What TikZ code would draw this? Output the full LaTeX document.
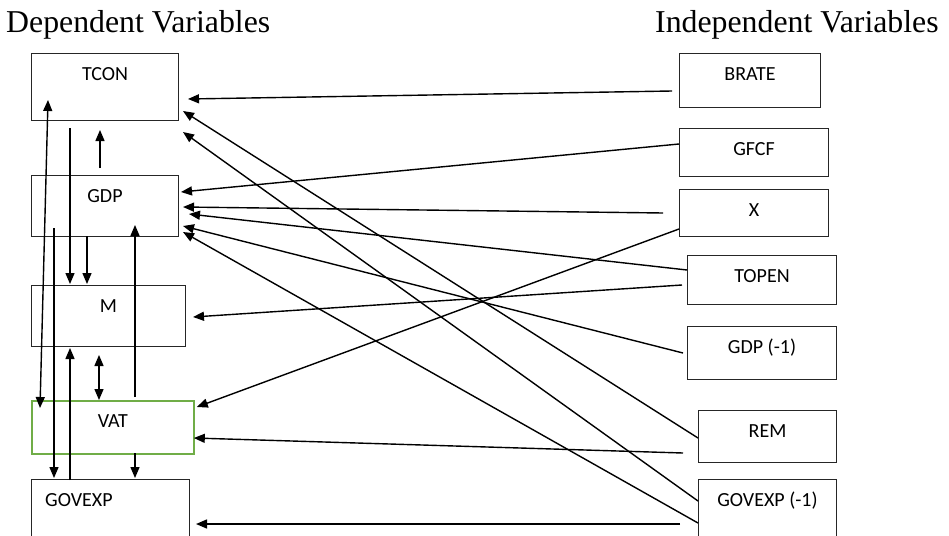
\documentclass[tikz,border=0pt]{standalone}
\usepackage{fontspec}
\setmainfont{Liberation Serif}
\setsansfont{Carlito}
\usetikzlibrary{arrows.meta}

\definecolor{vatgreen}{RGB}{112,173,71}

\tikzset{
	varbox/.style={draw=black!85, line width=1pt, anchor=north west, inner sep=0pt,
		minimum width=#1},
	boxtext/.style={anchor=base, inner sep=0pt, yshift=-27.5pt,
		font=\sffamily\fontsize{20}{22}\selectfont},
	heading/.style={anchor=base west, inner sep=0pt, font=\fontsize{31.8}{36}\selectfont},
	arr/.style={line width=1.4pt, -{Triangle[length=11pt,width=9pt]}},
	darr/.style={line width=1.4pt, {Triangle[length=11pt,width=9pt]}-{Triangle[length=11pt,width=9pt]}}
}

\begin{document}
\begin{tikzpicture}[x=1pt, y=-1pt]
	\clip (0,0) rectangle (949,535);
	
	\node[heading] (dephead) at (6,33) {Dependent Variables};
	\node[heading] (indhead) at (655,33) {Independent Variables};
	
	% dependent variables
	\node[varbox=147pt, minimum height=67pt, label={[boxtext]north:TCON}] (tcon) at (31,53) {};
	\node[varbox=147pt, minimum height=61pt, label={[boxtext]north:GDP}] (gdp) at (31,175) {};
	\node[varbox=154pt, minimum height=61pt, label={[boxtext]north:M}] (m) at (31,285) {};
	\node[varbox=162pt, minimum height=53pt, draw=vatgreen, line width=1.8pt,
		label={[boxtext]north:VAT}] (vat) at (31,400) {};
	\node[varbox=158pt, minimum height=62pt,
		label={[boxtext, anchor=base west, xshift=14pt]north west:GOVEXP}] (govexp) at (31,479) {};
	
	% independent variables
	\node[varbox=141pt, minimum height=54pt, label={[boxtext]north:BRATE}] (brate) at (679,53) {};
	\node[varbox=149pt, minimum height=48pt, label={[boxtext]north:GFCF}] (gfcf) at (679,128) {};
	\node[varbox=149pt, minimum height=47pt, label={[boxtext]north:X}] (x) at (679,189) {};
	\node[varbox=149pt, minimum height=49pt, label={[boxtext]north:TOPEN}] (topen) at (687,255) {};
	\node[varbox=149pt, minimum height=53pt, label={[boxtext]north:GDP (-1)}] (gdplag) at (687,326) {};
	\node[varbox=138pt, minimum height=52pt, label={[boxtext]north:REM}] (rem) at (698,410) {};
	\node[varbox=138pt, minimum height=62pt, label={[boxtext]north:GOVEXP (-1)}] (govlag) at (698,479) {};
	
	% links between dependent variables
	\draw[darr] ([shift={(17,47)}]tcon.north west) -- ([shift={(9,8)}]vat.north west);
	\draw[arr] ([shift={(23,53)}]gdp.north west) -- ([shift={(23,-1)}]govexp.north west);
	\draw[arr] ([shift={(39,75)}]tcon.north west) -- ([shift={(39,-1)}]m.north west);
	\draw[arr] ([shift={(56,61)}]gdp.north west) -- ([shift={(56,-1)}]m.north west);
	\draw[arr] ([shift={(69,-7)}]gdp.north west) -- ([shift={(69,77)}]tcon.north west);
	\draw[arr] ([shift={(104,-3)}]vat.north west) -- ([shift={(104,50)}]gdp.north west);
	\draw[arr] ([shift={(39,1)}]govexp.north west) -- ([shift={(39,63)}]m.north west);
	\draw[darr] ([shift={(68,70)}]m.north west) -- ([shift={(68,0)}]vat.north west);
	\draw[arr] ([shift={(104,53)}]vat.north west) -- ([shift={(104,-1)}]govexp.north west);
	
	% independent -> dependent
	\draw[arr] ([shift={(-7,38)}]brate.north west) -- ([shift={(9,46)}]tcon.north east);
	\draw[arr] ([shift={(0,16)}]gfcf.north west) -- ([shift={(2,17)}]gdp.north east);
	\draw[arr] ([shift={(-16,24)}]x.north west) -- ([shift={(4,32)}]gdp.north east);
	\draw[arr] ([shift={(0,40)}]x.north west) -- ([shift={(2,7)}]vat.north east);
	\draw[arr] ([shift={(0,15)}]topen.north west) -- ([shift={(10,39)}]gdp.north east);
	\draw[arr] ([shift={(-5,30)}]topen.north west) -- ([shift={(7,32)}]m.north east);
	\draw[arr] ([shift={(-4,27)}]gdplag.north west) -- ([shift={(4,51)}]gdp.north east);
	\draw[arr] ([shift={(0,28)}]rem.north west) -- ([shift={(4,58)}]tcon.north east);
	\draw[arr] ([shift={(-15,43)}]rem.north west) -- ([shift={(-1,38)}]vat.north east);
	\draw[arr] ([shift={(0,22)}]govlag.north west) -- ([shift={(4,79)}]tcon.north east);
	\draw[arr] ([shift={(0,44)}]govlag.north west) -- ([shift={(4,57)}]gdp.north east);
	\draw[arr] ([shift={(-18,45)}]govlag.north west) -- ([shift={(6,45)}]govexp.north east);
\end{tikzpicture}
\end{document}
